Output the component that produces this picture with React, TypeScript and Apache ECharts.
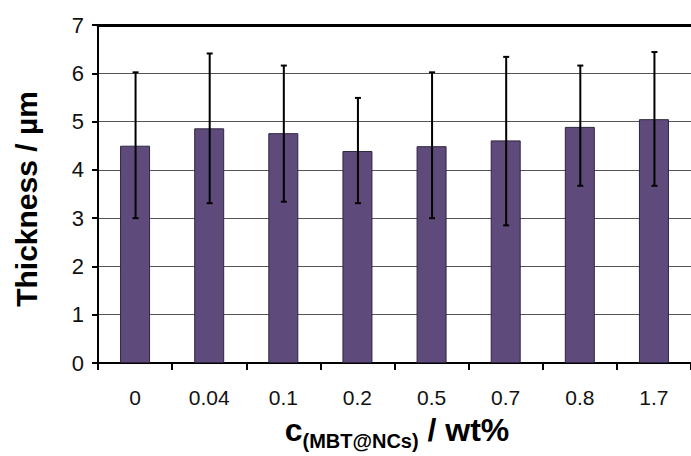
import React, { useEffect, useRef } from "react";
import * as echarts from "echarts";

const categories = ["0", "0.04", "0.1", "0.2", "0.5", "0.7", "0.8", "1.7"];
const thickness = [4.5, 4.86, 4.76, 4.39, 4.49, 4.61, 4.89, 5.05];
const errUpper = [6.02, 6.41, 6.16, 5.49, 6.02, 6.34, 6.16, 6.44];
const errLower = [3.0, 3.31, 3.34, 3.31, 3.0, 2.85, 3.67, 3.67];
const yTicks = [0, 1, 2, 3, 4, 5, 6, 7];

export default function App() {
  const ref = useRef<HTMLDivElement>(null);
  useEffect(() => {
    document.body.style.margin = "0";
    const chart = echarts.init(ref.current!, null, { renderer: "svg" });
    const font = "'Liberation Sans', Arial, sans-serif";
    chart.setOption({
      animation: false,
      backgroundColor: "#ffffff",
      textStyle: { fontFamily: font },
      grid: { left: 98, top: 25, right: -7, bottom: 93, containLabel: false },
      xAxis: [
        {
          type: "category",
          data: categories,
          position: "bottom",
          axisLine: { lineStyle: { color: "#000", width: 2 } },
          axisTick: { show: true, length: 7, lineStyle: { color: "#000", width: 2 } },
          axisLabel: { color: "#111", fontSize: 21, margin: 24, fontFamily: font },
          splitLine: { show: false },
        },
        {
          type: "category",
          data: categories,
          position: "top",
          axisLine: { lineStyle: { color: "#000", width: 3 } },
          axisTick: { show: false },
          axisLabel: { show: false },
        },
      ],
      yAxis: {
        type: "value",
        min: yTicks[0],
        max: yTicks[yTicks.length - 1],
        interval: 1,
        axisLine: { show: true, lineStyle: { color: "#000", width: 2 } },
        axisTick: { show: true, length: 6, lineStyle: { color: "#000", width: 2 } },
        axisLabel: { color: "#111", fontSize: 22, margin: 14, fontFamily: font },
        splitLine: { show: true, lineStyle: { color: "#555", width: 1 } },
      },
      series: [
        {
          type: "bar",
          data: thickness,
          barWidth: 30,
          itemStyle: { color: "#5f4b7b", borderColor: "#2e2540", borderWidth: 1 },
        },
        {
          type: "custom",
          data: categories.map((_, i) => [i, errLower[i], errUpper[i]]),
          z: 10,
          renderItem: (params: any, api: any) => {
            const i = api.value(0);
            const lo = api.coord([i, api.value(1)]);
            const hi = api.coord([i, api.value(2)]);
            const x = lo[0] + 0.5;
            const cap = 3;
            const st = { stroke: "#000", lineWidth: 2 };
            return {
              type: "group",
              children: [
                { type: "line", shape: { x1: x, y1: lo[1], x2: x, y2: hi[1] }, style: st },
                { type: "line", shape: { x1: x - cap, y1: lo[1], x2: x + cap, y2: lo[1] }, style: st },
                { type: "line", shape: { x1: x - cap, y1: hi[1], x2: x + cap, y2: hi[1] }, style: st },
              ],
            };
          },
        },
      ],
      graphic: [
        {
          type: "text",
          x: 26,
          y: 199,
          rotation: Math.PI / 2,
          style: {
            text: "Thickness / µm",
            fontSize: 30,
            fontWeight: "bold",
            fontFamily: font,
            fill: "#000",
            align: "center",
            verticalAlign: "middle",
          },
        },
        {
          type: "text",
          x: 397,
          y: 430,
          style: {
            text: "{m|c}{s|(MBT@NCs)}{m| / wt%}",
            fontFamily: font,
            fill: "#000",
            align: "center",
            verticalAlign: "middle",
            rich: {
              m: { fontSize: 32, fontWeight: "bold", fontFamily: font, fill: "#000", verticalAlign: "bottom", lineHeight: 32 },
              s: { fontSize: 20, fontWeight: "bold", fontFamily: font, fill: "#000", verticalAlign: "bottom", lineHeight: 14, padding: [0, 0, -5, 0] },
            },
          },
        },
      ],
    });
    return () => chart.dispose();
  }, []);
  return <div ref={ref} style={{ width: 691, height: 456, position: "absolute", left: 0, top: 0 }} />;
}
